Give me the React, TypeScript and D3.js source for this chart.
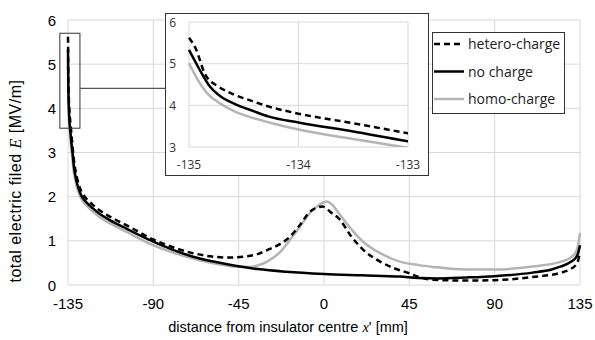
import React, { useEffect, useRef } from "react";
import * as d3 from "d3";

// hetero-charge (dashed)
const heteroX = [-135, -134.94, -134.85, -134.73, -134.58, -134.42, -134.27, -134, -133.5, -133, -132.5, -132, -131, -130, -129, -128, -127, -125, -122, -118, -113, -104, -90, -80, -69, -60, -50, -42, -35, -28.5, -23, -18, -12.7, -7.4, -3, -1, 0, 3.2, 8.4, 13.7, 20.6, 29.6, 37, 44, 50, 57.5, 75, 90, 110, 125, 130, 133, 134, 135];
const heteroE = [5.62, 5.37, 4.73, 4.45, 4.25, 4.1, 3.97, 3.8, 3.57, 3.33, 3.1, 2.88, 2.58, 2.38, 2.23, 2.12, 2.05, 1.94, 1.82, 1.68, 1.55, 1.35, 1.03, 0.86, 0.72, 0.65, 0.62, 0.64, 0.7, 0.82, 0.93, 1.09, 1.36, 1.66, 1.76, 1.78, 1.77, 1.66, 1.48, 1.14, 0.8, 0.53, 0.38, 0.28, 0.18, 0.12, 0.1, 0.11, 0.18, 0.28, 0.36, 0.47, 0.56, 0.75];

// no charge (solid black)
const noneX = [-135, -134.91, -134.82, -134.73, -134.58, -134.42, -134.27, -134, -133.5, -133, -132.5, -132, -131, -130, -129, -128, -127, -125, -122, -118, -113, -104, -90, -80, -69, -57, -46, -35, -20, 0, 20, 40, 50, 60, 75, 90, 110, 120, 125, 130, 133, 134, 135];
const noneE = [5.33, 4.89, 4.49, 4.25, 4.03, 3.87, 3.73, 3.59, 3.37, 3.14, 2.95, 2.72, 2.45, 2.27, 2.13, 2.03, 1.96, 1.86, 1.74, 1.6, 1.47, 1.27, 0.98, 0.8, 0.64, 0.52, 0.43, 0.36, 0.3, 0.25, 0.22, 0.19, 0.16, 0.15, 0.17, 0.2, 0.28, 0.35, 0.42, 0.52, 0.63, 0.72, 0.9];

// homo-charge (grey)
const homoX = [-135, -134.91, -134.82, -134.73, -134.58, -134.42, -134.27, -134, -133.5, -133, -132.5, -132, -131, -130, -129, -128, -127, -125, -122, -118, -113, -104, -90, -80, -69, -57, -48, -40, -33, -28.5, -23, -18, -12.7, -7.4, -3, 1.5, 4, 8.4, 13.7, 20.6, 29.6, 40, 50, 57.5, 75, 90, 110, 125, 130, 133, 134, 135];
const homoE = [5.01, 4.57, 4.25, 4.07, 3.85, 3.7, 3.59, 3.42, 3.19, 2.98, 2.78, 2.58, 2.33, 2.17, 2.05, 1.96, 1.89, 1.79, 1.67, 1.53, 1.4, 1.2, 0.9, 0.74, 0.6, 0.48, 0.42, 0.41, 0.47, 0.57, 0.75, 1.02, 1.32, 1.63, 1.8, 1.89, 1.83, 1.59, 1.3, 0.98, 0.72, 0.53, 0.45, 0.41, 0.35, 0.35, 0.42, 0.53, 0.62, 0.76, 0.9, 1.18];

const xTicks = [-135, -90, -45, 0, 45, 90, 135];
const yTicks = [0, 1, 2, 3, 4, 5, 6];
const insetXTicks = [-135, -134, -133];
const insetYTicks = [3, 4, 5, 6];
const legendNames = ["hetero-charge", "no charge", "homo-charge"];

// zoom window drawn on the main plot
const zoomBox = { x0: -139.3, x1: -128.7, e0: 3.55, e1: 5.7, eLink: 4.45 };

export default function App() {
  const ref = useRef<SVGSVGElement>(null);

  useEffect(() => {
    const svg = d3.select(ref.current);
    svg.selectAll("*").remove();

    const series = [
      { name: legendNames[0], x: heteroX, e: heteroE, color: "#000", dash: "6,4" },
      { name: legendNames[1], x: noneX, e: noneE, color: "#000", dash: null },
      { name: legendNames[2], x: homoX, e: homoE, color: "#b4b4b4", dash: null },
    ];
    const order = [2, 1, 0];

    // main scales
    const x = d3.scaleLinear().domain([-135, 135]).range([68, 580]);
    const y = d3.scaleLinear().domain([0, 6]).range([285, 20]);
    const grid = "#d9d9d9";
    const sans = "'Liberation Sans', Arial, sans-serif";

    const g = svg.append("g");
    g.selectAll(".vg")
      .data(xTicks)
      .enter()
      .append("line")
      .attr("x1", (d) => x(d))
      .attr("x2", (d) => x(d))
      .attr("y1", y(0))
      .attr("y2", y(6))
      .attr("stroke", grid);
    g.selectAll(".hg")
      .data(yTicks)
      .enter()
      .append("line")
      .attr("x1", x(-135))
      .attr("x2", x(135))
      .attr("y1", (d) => y(d))
      .attr("y2", (d) => y(d))
      .attr("stroke", grid);

    g.selectAll(".xl")
      .data(xTicks)
      .enter()
      .append("text")
      .attr("x", (d) => x(d))
      .attr("y", 309)
      .attr("text-anchor", "middle")
      .style("font", `15px ${sans}`)
      .text((d) => d);
    g.selectAll(".yl")
      .data(yTicks)
      .enter()
      .append("text")
      .attr("x", 56)
      .attr("y", (d) => y(d) + 5.5)
      .attr("text-anchor", "end")
      .style("font", `15px ${sans}`)
      .text((d) => d);

    const drawSeries = (
      parent: d3.Selection<any, unknown, null, undefined>,
      sx: d3.ScaleLinear<number, number>,
      sy: d3.ScaleLinear<number, number>,
      w: number
    ) => {
      order.forEach((k) => {
        const s = series[k];
        const pts = s.x.map((v, i) => [v, s.e[i]] as [number, number]);
        const gen = d3
          .line<[number, number]>()
          .x((d) => sx(d[0]))
          .y((d) => sy(d[1]))
          .curve(d3.curveMonotoneX);
        parent
          .append("path")
          .datum(pts)
          .attr("fill", "none")
          .attr("stroke", s.color)
          .attr("stroke-width", w)
          .attr("stroke-dasharray", s.dash)
          .attr("d", gen);
      });
    };
    drawSeries(g, x, y, 2.5);

    // zoom box and link
    g.append("rect")
      .attr("x", x(zoomBox.x0))
      .attr("y", y(zoomBox.e1))
      .attr("width", x(zoomBox.x1) - x(zoomBox.x0))
      .attr("height", y(zoomBox.e0) - y(zoomBox.e1))
      .attr("fill", "none")
      .attr("stroke", "#333")
      .attr("stroke-width", 1);
    g.append("line")
      .attr("x1", x(zoomBox.x1))
      .attr("x2", 165)
      .attr("y1", y(zoomBox.eLink))
      .attr("y2", y(zoomBox.eLink))
      .attr("stroke", "#555")
      .attr("stroke-width", 1.2);

    // inset
    const ix = d3.scaleLinear().domain([-135, -133]).range([189, 408]);
    const iy = d3.scaleLinear().domain([3, 6]).range([147, 22]);
    const calib = "'Open Sans', 'Noto Sans', sans-serif";
    const ins = svg.append("g");
    ins.append("rect")
      .attr("x", 165.5)
      .attr("y", 13.5)
      .attr("width", 263)
      .attr("height", 162)
      .attr("fill", "#fff")
      .attr("stroke", "#333")
      .attr("stroke-width", 1);
    ins.selectAll(".ivg")
      .data(insetXTicks)
      .enter()
      .append("line")
      .attr("x1", (d) => ix(d))
      .attr("x2", (d) => ix(d))
      .attr("y1", iy(3))
      .attr("y2", iy(6))
      .attr("stroke", grid);
    ins.selectAll(".ihg")
      .data(insetYTicks)
      .enter()
      .append("line")
      .attr("x1", ix(-135))
      .attr("x2", ix(-133))
      .attr("y1", (d) => iy(d))
      .attr("y2", (d) => iy(d))
      .attr("stroke", grid);
    ins.selectAll(".ixl")
      .data(insetXTicks)
      .enter()
      .append("text")
      .attr("x", (d) => ix(d))
      .attr("y", 169)
      .attr("text-anchor", "middle")
      .attr("fill", "#333")
      .style("font", `12px ${calib}`)
      .text((d) => d);
    ins.selectAll(".iyl")
      .data(insetYTicks)
      .enter()
      .append("text")
      .attr("x", 176)
      .attr("y", (d) => iy(d) + 4.5)
      .attr("text-anchor", "end")
      .attr("fill", "#333")
      .style("font", `12px ${calib}`)
      .text((d) => d);
    svg
      .append("defs")
      .append("clipPath")
      .attr("id", "insetClip")
      .append("rect")
      .attr("x", ix(-135) - 2)
      .attr("y", iy(6))
      .attr("width", ix(-133) - ix(-135) + 2)
      .attr("height", iy(3) - iy(6));
    const insPlot = ins.append("g").attr("clip-path", "url(#insetClip)");
    drawSeries(insPlot, ix, iy, 2.5);

    // legend
    const leg = svg.append("g");
    leg.append("rect")
      .attr("x", 432.5)
      .attr("y", 32.5)
      .attr("width", 132)
      .attr("height", 81)
      .attr("fill", "#fff")
      .attr("stroke", "#333")
      .attr("stroke-width", 1);
    series.forEach((s, i) => {
      const cy = 44 + i * 27.5;
      leg.append("line")
        .attr("x1", 434)
        .attr("x2", 464)
        .attr("y1", cy)
        .attr("y2", cy)
        .attr("stroke", s.color)
        .attr("stroke-width", 2.5)
        .attr("stroke-dasharray", s.dash);
      leg.append("text")
        .attr("x", 468)
        .attr("y", cy + 5)
        .style("font", `14px ${calib}`)
        .attr("fill", "#222")
        .text(s.name);
    });

    // axis titles
    const yt = svg
      .append("text")
      .attr("transform", "translate(21,181) rotate(-90)")
      .attr("text-anchor", "middle")
      .style("font", `16px ${sans}`)
      .style("letter-spacing", "0.5px");
    yt.append("tspan").text("total electric filed ");
    yt.append("tspan").style("font", "italic 16px 'Liberation Serif', serif").text("E");
    yt.append("tspan").text(" [MV/m]");

    const xt = svg
      .append("text")
      .attr("x", 288)
      .attr("y", 332)
      .attr("text-anchor", "middle")
      .style("font", `14.5px ${sans}`);
    xt.append("tspan").text("distance from insulator centre ");
    xt.append("tspan").style("font", "italic 14.5px 'Liberation Serif', serif").text("x");
    xt.append("tspan").text("' [mm]");
  }, []);

  return (
    <svg
      ref={ref}
      width={595}
      height={340}
      style={{ position: "absolute", left: 0, top: 0, background: "#fff" }}
    />
  );
}
